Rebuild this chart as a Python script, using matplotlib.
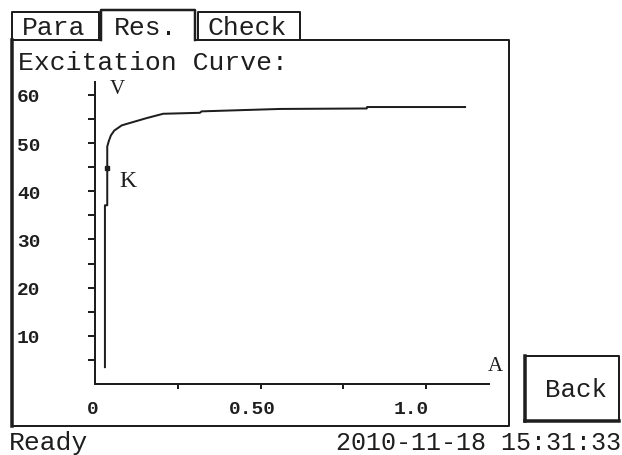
# excitation curve screen (Res. tab) redrawn with matplotlib

import matplotlib
matplotlib.use('Agg')
from matplotlib import pyplot as plt
from matplotlib import transforms

# --- data ---
current_a = [0.030, 0.030, 0.037, 0.037, 0.042, 0.048, 0.058, 0.081, 0.116, 0.156,
             0.206, 0.317, 0.322, 0.559, 0.821, 0.822, 1.118]
voltage_v = [3.5, 37.1, 37.1, 49.3, 50.5, 51.6, 52.6, 53.7, 54.4, 55.2,
             56.1, 56.3, 56.6, 57.1, 57.2, 57.5, 57.5]
knee_a = 0.035
knee_v = 44.9

y_major = [10, 20, 30, 40, 50, 60]
y_minor = [5, 15, 25, 35, 45, 55]
x_major = [0, 0.5, 1.0]
x_labels = ['0', '0.50', '1.0']
x_minor = [0.25, 0.75]

tabs = ['Para', 'Res.', 'Check']
title = 'Excitation Curve:'
status = 'Ready'
stamp = '2010-11-18 15:31:33'

ink = '#1e1e1e'
mono = 'Liberation Mono'
serif = 'Liberation Serif'
px = 0.72  # points per pixel at dpi 100

fig = plt.figure(figsize=(6.22, 4.56), dpi=100)
fig.patch.set_facecolor('white')

# pixel-space layer for the screen furniture
ui = fig.add_axes([0, 0, 1, 1])
ui.set_xlim(0, 622)
ui.set_ylim(456, 0)
ui.axis('off')

def seg(xs, ys, w=2):
    ui.plot(xs, ys, color=ink, lw=w * px, solid_capstyle='projecting')

# tabs
seg([12, 12, 99, 99], [41, 13, 13, 41])
seg([101, 101, 195, 195], [41, 11, 11, 41], 2.5)
seg([198, 198, 300, 300], [41, 13, 13, 41])
tab_x = [54, 146, 247]
for t, x in zip(tabs, tab_x):
    ui.text(x, 28, t, family=mono, size=19, color=ink, ha='center', va='center')

# panel frame
seg([12, 101], [41, 41])
seg([195, 509, 509, 12], [41, 41, 427, 427])
seg([12, 12], [41, 427], 3.5)

ui.text(18, 63, title, family=mono, size=19, color=ink, ha='left', va='center')

# back button
seg([525, 619, 619, 525, 525], [357, 357, 422, 422, 357], 2)
seg([525, 525], [357, 422], 3.5)
seg([525, 619], [422, 422], 3.5)
ui.text(576, 390, 'Back', family=mono, size=18.5, color=ink, ha='center', va='center')

# status line
ui.text(9, 443, status, family=mono, size=19, color=ink, ha='left', va='center')
ui.text(621, 443, stamp, family=mono, size=18, color=ink, ha='right', va='center')

# --- plot area ---
ax = fig.add_axes([95 / 622, (456 - 385) / 456, (489 - 95) / 622, (385 - 83) / 456])
ax.patch.set_alpha(0)
ax.set_xlim(0, (489 - 95) / 331)
ax.set_ylim(0, (385 - 83) / 4.817)
for s in ['top', 'right']:
    ax.spines[s].set_visible(False)
for s in ['left', 'bottom']:
    ax.spines[s].set_color(ink)
    ax.spines[s].set_linewidth(2 * px)

ax.plot(current_a, voltage_v, color=ink, lw=2 * px, clip_on=False)
ax.plot([knee_a], [knee_v], marker='s', ms=5 * px, color=ink, linestyle='none')

ax.set_yticks(y_major, [str(v) for v in y_major])
ax.set_yticks(y_minor, minor=True)
ax.set_xticks(x_major, x_labels)
ax.set_xticks(x_minor, minor=True)
ax.xaxis.get_major_ticks()[0].tick1line.set_visible(False)

ax.tick_params(axis='y', which='both', direction='out', length=7 * px,
               width=2 * px, color=ink)
ax.tick_params(axis='y', which='major', pad=31, labelsize=14, labelcolor=ink)
ax.tick_params(axis='x', which='both', direction='out', length=5 * px,
               width=2 * px, color=ink)
ax.tick_params(axis='x', which='major', pad=8, labelsize=14, labelcolor=ink)
for lab in ax.get_yticklabels():
    lab.set_family(mono)
    lab.set_weight('bold')
    lab.set_ha('left')
    lab.set_transform(lab.get_transform()
                      + transforms.ScaledTranslation(-28 / 100, 0, fig.dpi_scale_trans))
shifts = [-2, -8, -15]
for lab, dx in zip(ax.get_xticklabels(), shifts):
    lab.set_family(mono)
    lab.set_weight('bold')
    lab.set_transform(lab.get_transform()
                      + transforms.ScaledTranslation(dx / 100, 0, fig.dpi_scale_trans))

ui.text(117, 90, 'V', family=serif, size=15, color=ink, ha='center', va='center')
ui.text(495, 367, 'A', family=serif, size=15, color=ink, ha='center', va='center')
ui.text(128, 182, 'K', family=serif, size=17, color=ink, ha='center', va='center')

plt.savefig('out.png', dpi=100)
